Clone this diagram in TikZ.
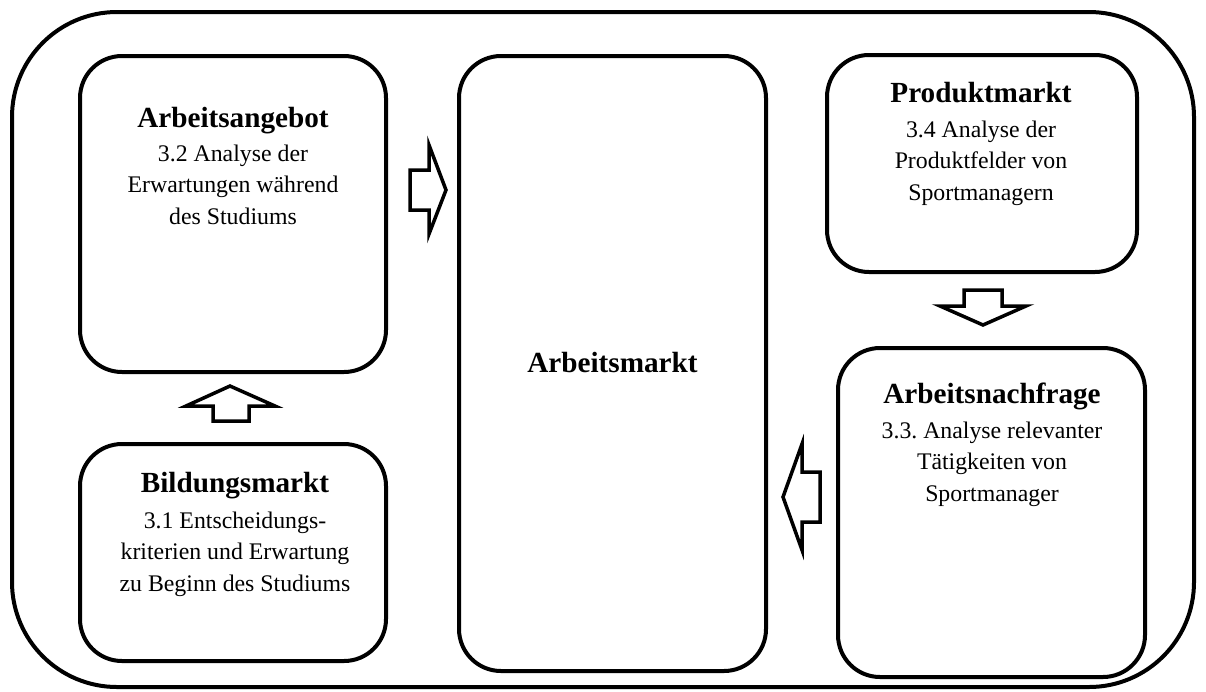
\documentclass[tikz,border=0pt]{standalone}
\usepackage{fontspec}
\setmainfont{Liberation Serif}
\frenchspacing
\begin{document}
\begin{tikzpicture}[x=1pt,y=-1pt,
  box/.style={draw, line width=4pt, rounded corners=42pt, inner sep=0pt},
  titletext/.style={anchor=base, inner sep=0pt, font=\fontsize{29.2}{35}\selectfont\bfseries},
  bodytext/.style={anchor=base, inner sep=0pt, align=center, font=\fontsize{23.8}{31.5}\selectfont},
  blockarrow/.style={draw, line width=3.5pt, line join=miter, miter limit=20}]
\useasboundingbox (0,0) rectangle (1206,691);
% outer frame
\draw[line width=4pt, rounded corners=105pt] (12,12) rectangle (1194,687);
% boxes
\node[box, minimum width=306pt, minimum height=316pt] (angebot) at (233,214) {};
\node[box, minimum width=306pt, minimum height=217pt] (bildung) at (233,552.5) {};
\node[box, minimum width=307pt, minimum height=615pt] (markt) at (612.5,363.5) {};
\node[box, minimum width=310pt, minimum height=217pt] (produkt) at (982,163.5) {};
\node[box, minimum width=307pt, minimum height=329pt] (nachfrage) at (991.5,512.5) {};
% texts (body nodes are anchored at the baseline of their last line)
\node[titletext] (angebotT) at (233,127) {Arbeitsangebot};
\node[bodytext] (angebotB) at (233,224) {3.2 Analyse der\\Erwartungen während\\des Studiums};
\node[titletext] (bildungT) at (235,492) {Bildungsmarkt};
\node[bodytext] (bildungB) at (235,591) {3.1 Entscheidungs-\\kriterien und Erwartung\\zu Beginn des Studiums};
\node[titletext] (marktT) at (612.5,372) {Arbeitsmarkt};
\node[titletext] (produktT) at (981,102) {Produktmarkt};
\node[bodytext] (produktB) at (981,200) {3.4 Analyse der\\Produktfelder von\\Sportmanagern};
\node[titletext] (nachfrageT) at (992,403) {Arbeitsnachfrage};
\node[bodytext] (nachfrageB) at (992,501) {3.3. Analyse relevanter\\Tätigkeiten von\\Sportmanager};
% block arrows
\draw[blockarrow] (410,170) -- (429,170) -- (429,145) -- (446,190) -- (429,234) -- (429,210) -- (410,210) -- cycle;
\draw[blockarrow] (213,421) -- (213,406) -- (186,406) -- (230,386) -- (275,406) -- (249,406) -- (249,421) -- cycle;
\draw[blockarrow] (964,290) -- (1002,290) -- (1002,306) -- (1026,306) -- (983,325) -- (940,306) -- (964,306) -- cycle;
\draw[blockarrow] (820,472) -- (802,472) -- (802,444) -- (783,497) -- (802,550) -- (802,522) -- (820,522) -- cycle;
\end{tikzpicture}
\end{document}
